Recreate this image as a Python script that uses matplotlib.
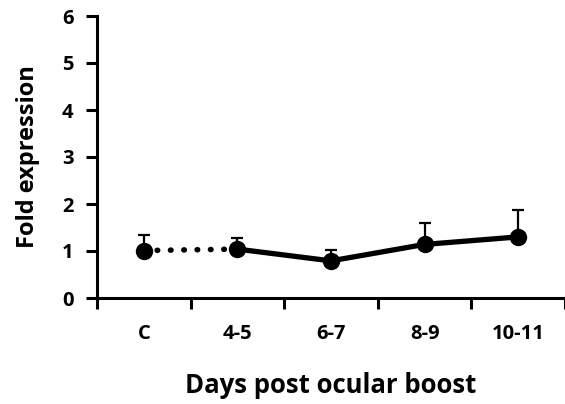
import matplotlib.pyplot as plt

# data
groups = ["C", "4-5", "6-7", "8-9", "10-11"]
fold = [1.01, 1.04, 0.79, 1.14, 1.30]
err_up = [0.33, 0.24, 0.23, 0.46, 0.57]
yticks = [0, 1, 2, 3, 4, 5, 6]

plt.rcParams["font.family"] = ["Open Sans", "DejaVu Sans"]
plt.rcParams["font.weight"] = "bold"

fig = plt.figure(figsize=(5.65, 4.04), dpi=100)
ax = fig.add_axes([97 / 565, 106 / 404, 1 - 97 / 565, 282 / 404])

xs = [i + 0.5 for i in range(len(groups))]

# error bars (upper only)
ax.errorbar(xs, fold, yerr=[[0] * len(fold), err_up], fmt="none",
            ecolor="black", elinewidth=1.6, capsize=4.3, capthick=1.6, zorder=2)

# dotted segment from control to first time point
ax.plot(xs[:2], fold[:2], color="black", linestyle=(0, (0.1, 2.3)),
        linewidth=4, dash_capstyle="round", zorder=3)
# solid line for the time course
ax.plot(xs[1:], fold[1:], color="black", linewidth=3.8, solid_capstyle="round",
        zorder=3)
ax.plot(xs, fold, "o", color="black", markersize=11.5, zorder=4)

ax.set_xlim(0, 5)
ax.set_ylim(0, 6)
ax.set_yticks(yticks)
ax.set_yticklabels([str(t) for t in yticks], fontsize=14.5, fontweight="bold")
ax.set_xticks(range(0, 6))
ax.set_xticklabels([])
ax.set_xticks(xs, minor=True)
ax.set_xticklabels(groups, minor=True, fontsize=14.5, fontweight="bold")

for s in ["top", "right"]:
    ax.spines[s].set_visible(False)
for s in ["left", "bottom"]:
    ax.spines[s].set_linewidth(2.2)

ax.tick_params(axis="both", which="major", direction="out", length=8, width=2.2)
ax.tick_params(axis="x", which="minor", length=0, pad=19)
ax.tick_params(axis="y", pad=9)

ax.set_ylabel("Fold expression", fontsize=17, fontweight="bold", labelpad=16)
ax.set_xlabel("Days post ocular boost", fontsize=18.5, fontweight="bold", labelpad=20)
ax.patch.set_visible(False)
for ln in ax.lines:
    ln.set_clip_on(False)

fig.savefig("out.png", dpi=100)
